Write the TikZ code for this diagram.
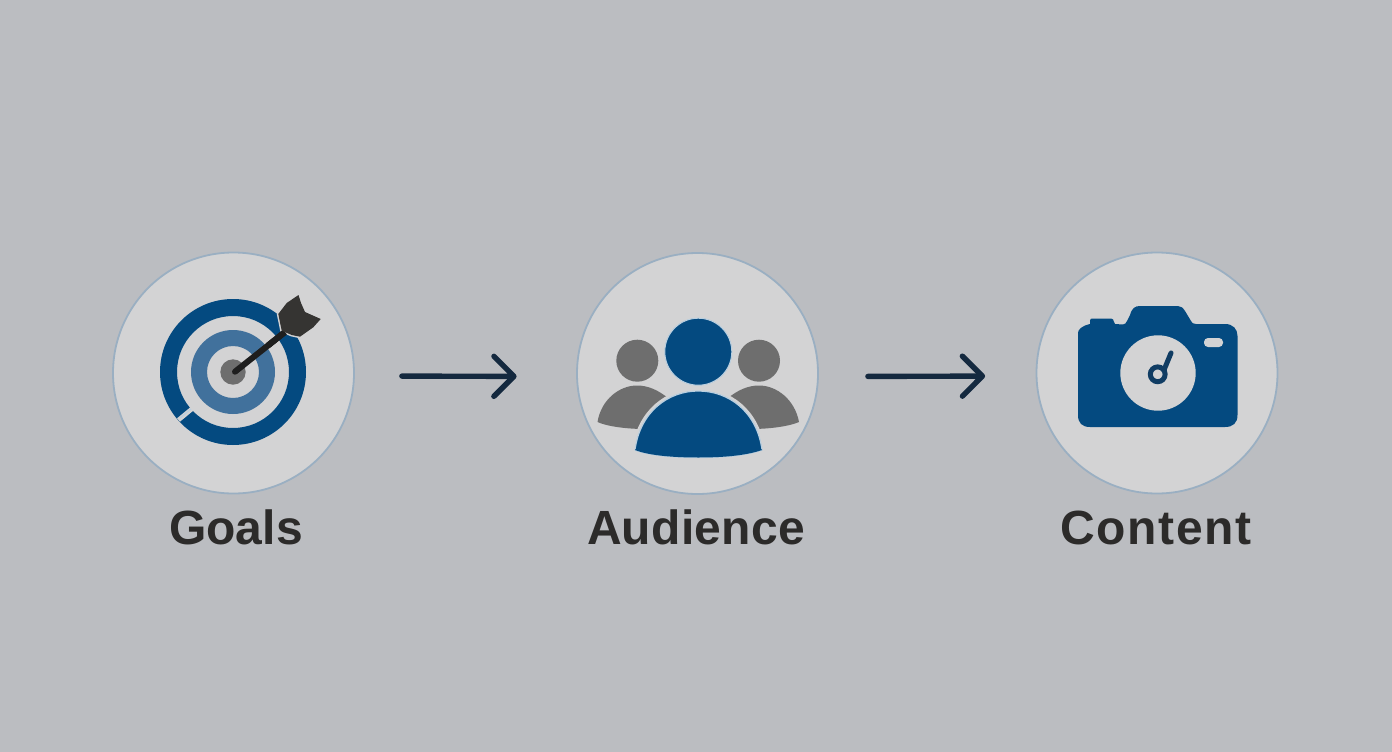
\documentclass[tikz,border=0pt]{standalone}
\usepackage{fontspec}
\setmainfont{Liberation Sans}
\usetikzlibrary{arrows.meta}
\definecolor{bgc}{HTML}{BBBDC1}
\definecolor{disc}{HTML}{D3D3D4}
\definecolor{rim}{HTML}{9AAFC2}
\definecolor{navy}{HTML}{044A80}
\definecolor{midblue}{HTML}{41719C}
\definecolor{halo}{HTML}{B9CFE0}
\definecolor{greyp}{HTML}{6E6E6E}
\definecolor{inkd}{HTML}{2C2B2A}
\definecolor{headc}{HTML}{353432}
\definecolor{shaftc}{HTML}{1E1E1E}
\definecolor{flowc}{HTML}{14293F}
\definecolor{handc}{HTML}{103C63}
\tikzset{
  x=1pt,y=-1pt,
  iconcircle/.style={circle,draw=rim,line width=1.8pt,fill=disc,minimum size=241pt,inner sep=0pt},
  caption/.style={font=\fontsize{48}{52}\selectfont\bfseries,text=inkd,inner sep=0pt,anchor=base},
  flow/.style={draw=flowc,line width=5.4pt,line cap=round,-{Straight Barb[length=20pt,width=40pt,line width=5.4pt,round]}},
}
\begin{document}
\begin{tikzpicture}
\useasboundingbox (0,0) rectangle (1392,752);
\fill[bgc] (0,0) rectangle (1392,752);
\node[iconcircle] (goals) at (233.5,373) {};
\node[iconcircle] (audience) at (697.5,373.5) {};
\node[iconcircle] (content) at (1157,373) {};
\node[caption] (goalslabel) at (236,544) {Goals};
\node[caption] (audiencelabel) at (696,544) {\addfontfeatures{LetterSpace=0.5}Audience};
\node[caption] (contentlabel) at (1156,544) {\addfontfeatures{LetterSpace=3.5}Content};
\draw[flow,shorten <=47pt,shorten >=59.5pt] ([yshift=-3pt]goals.east) -- ([yshift=-3pt]audience.west);
\draw[flow,shorten <=49pt,shorten >=50.5pt] ([yshift=-3pt]audience.east) -- ([yshift=-3pt]content.west);
% target
\fill[navy,even odd rule] (233,372) circle[radius=73] (233,372) circle[radius=56];
\draw[disc,line width=4.5pt] (178.5,420) -- (193,408);
\draw[halo,line width=1.2pt] (180,418) -- (191,409);
\fill[midblue,even odd rule] (233,372) circle[radius=42] (233,372) circle[radius=26];
\fill[greyp] (233,372) circle[radius=12.7];
\draw[shaftc,line width=6pt,line cap=round] (235,371.7) -- (285,332);
\filldraw[fill=headc,draw=disc,line width=3pt,line join=round] (298.5,295) -- (301,303) -- (305,312) -- (320.7,319) -- (313.3,327.3) -- (300,336.7) -- (291.7,335) -- (281.7,330.7) -- (278.3,314) -- (286.7,303) -- cycle;
\draw[shaftc,line width=6pt] (268,345.5) -- (285,332);
\fill[headc] (298.5,295) -- (301,303) -- (305,312) -- (320.7,319) -- (313.3,327.3) -- (300,336.7) -- (291.7,335) -- (281.7,330.7) -- (278.3,314) -- (286.7,303) -- cycle;
% audience
\fill[greyp] (637.3,360.7) circle[radius=21];
\fill[greyp] (759,360.7) circle[radius=21];
\fill[greyp] (597.5,422) .. controls (601,400) and (619,385.5) .. (637,385.5) .. controls (648,385.5) and (658,390) .. (668,398) -- (645,429) .. controls (625,429) and (606,426) .. (597.5,422) -- cycle;
\fill[greyp] (799,422) .. controls (795,400) and (777,385.5) .. (759,385.5) .. controls (748,385.5) and (738,390) .. (728,398) -- (751,429) .. controls (771,429) and (790,426) .. (799,422) -- cycle;
\filldraw[fill=navy,draw=halo,line width=1pt] (698.3,351.7) circle[radius=33.5];
\path[draw=disc,line width=6pt,line join=round] (635,450) .. controls (640,412) and (668,391) .. (698.3,391) .. controls (729,391) and (757,412) .. (762,450);
\path[draw=halo,line width=1.2pt,fill=navy,line join=round] (635,450) .. controls (640,412) and (668,391) .. (698.3,391) .. controls (729,391) and (757,412) .. (762,450) .. controls (745,456) and (720,457.5) .. (698.3,457.5) .. controls (677,457.5) and (650,456) .. (635,450) -- cycle;
\fill[navy] (635,450) .. controls (650,456) and (677,457.5) .. (698.3,457.5) .. controls (720,457.5) and (745,456) .. (762,450) -- (755,440) -- (642,440) -- cycle;
% camera
\fill[navy] (1078,333) .. controls (1078,330) and (1081,326) .. (1090,324) -- (1090,321) .. controls (1090,319) and (1091,318.5) .. (1092,318.5) -- (1111,318.5) .. controls (1113,318.5) and (1113.5,320) .. (1114,322) -- (1115,324) -- (1123,324.5) .. controls (1125,324.5) and (1126,323) .. (1127,321) -- (1130,315) .. controls (1132,308) and (1135,306) .. (1140,306) -- (1178,306) .. controls (1181,306) and (1183,308) .. (1185,311) -- (1191,321) .. controls (1192,323) and (1193,324) .. (1196,324) -- (1225,324) .. controls (1233,324) and (1237.5,329) .. (1237.5,336) -- (1237.5,415) .. controls (1237.5,423) and (1233,427) .. (1225,427) -- (1090,427) .. controls (1082,427) and (1078,423) .. (1078,415) -- cycle;
\fill[disc] (1158,373) circle[radius=37.7];
\fill[disc,rounded corners=4pt] (1204,338) rectangle (1223,347);
\draw[handc,line width=5pt] (1157.7,374.3) circle[radius=7.4];
\draw[handc,line width=5pt,line cap=round] (1164,370) -- (1171,353);
\end{tikzpicture}
\end{document}
